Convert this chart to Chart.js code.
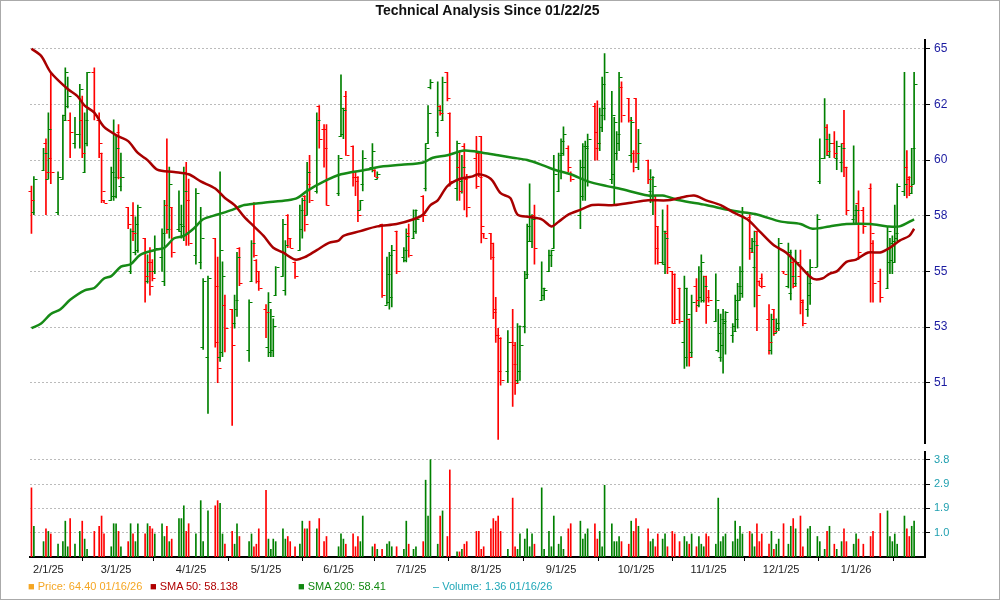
<!DOCTYPE html>
<html><head><meta charset="utf-8">
<script src="https://cdn.jsdelivr.net/npm/chart.js@4"></script>
<style>
html,body{margin:0;padding:0;background:#fff;}
#wrap{position:relative;width:1000px;height:600px;overflow:hidden;font-family:Arial,"Liberation Sans",sans-serif;}
#frame{position:absolute;left:0;top:0;width:998px;height:598px;border:1px solid #aaa;}
#title{position:absolute;top:2px;left:0;width:975px;text-align:center;font-weight:bold;font-size:14px;color:#111;}
#pc{position:absolute;left:0;top:0;}
#vc{position:absolute;left:0;top:440px;}
#legend{position:absolute;top:580px;left:28px;font-size:11px;white-space:nowrap;}
#legend span{position:absolute;top:0;}
</style></head><body>
<div id="wrap">
<div id="frame"></div>
<canvas id="pc" width="1000" height="455"></canvas>
<canvas id="vc" width="1000" height="160"></canvas>
<div id="title">Technical Analysis Since 01/22/25</div>
<div id="legend">
<span style="left:0;color:#f5a623">&#9632; Price: 64.40 01/16/26</span>
<span style="left:122px;color:#b00000">&#9632; SMA 50: 58.138</span>
<span style="left:270px;color:#118811">&#9632; SMA 200: 58.41</span>
<span style="left:405px;color:#20a8b8">&#8211; Volume: 1.36 01/16/26</span>
</div>
</div>
<script>
// x positions are session days since 01/22/25 on the chart's time axis
const monthTickDays = [10,38,69,100,130,160,191,222,253,283,313,344];
const monthTickLabels = ["2/1/25","3/1/25","4/1/25","5/1/25","6/1/25","7/1/25","8/1/25","9/1/25","10/1/25","11/1/25","12/1/25","1/1/26"];
const priceTicks = [65,62.65,60.3,57.95,55.6,53.25,50.9];
const priceTickLabels = ["65","62","60","58","55","53","51"];
const volTicks = [0.95,1.9,2.85,3.8];
const volTickLabels = ["1.0","1.9","2.9","3.8"];

// [day, open, high, low, close]
const bars = [
[3,59.0,59.2,57.2,58.6],[4,58.1,59.6,58.0,59.5],[8,59.9,60.8,59.9,60.6],[9,61.0,61.2,58.0,59.8],[10,59.5,62.3,59.5,61.6],[11,60.4,64.0,59.3,59.8],[14,58.1,59.8,58.0,59.6],[16,59.5,62.2,59.5,62.0],[17,62.2,64.2,62.0,64.0],[18,62.6,63.8,62.5,63.0],[19,62.0,62.3,60.4,61.5],[21,61.0,62.1,60.8,61.4],[23,61.4,63.5,60.8,63.3],[24,62.0,63.0,60.4,60.6],[25,59.8,62.3,59.8,62.0],[26,61.0,64.0,60.9,64.0],[29,64.0,64.2,62.0,62.2],[31,62.0,62.3,60.4,61.0],[32,60.6,60.6,58.5,59.0],[33,58.6,58.6,58.5,58.5],
[36,58.6,60.0,58.6,59.8],[37,58.8,62.0,58.6,59.6],[38,58.8,61.3,58.7,60.8],[39,61.5,61.8,59.5,59.6],[40,59.2,60.6,59.0,59.6],[43,58.3,58.3,57.4,57.6],[44,55.6,57.4,55.5,57.3],[45,58.0,58.5,56.9,57.2],[46,56.4,57.9,56.3,57.6],[47,56.5,58.4,56.4,58.3],[50,57.0,57.0,54.3,55.4],[51,55.2,56.3,55.1,55.6],[52,56.0,56.6,54.6,55.0],[53,56.0,56.1,55.2,55.3],[54,55.6,57.1,55.5,56.6],[57,56.2,57.4,55.6,57.2],[58,55.2,58.6,55.0,58.4],[59,58.4,61.2,57.2,57.4],[60,57.4,60.0,57.0,59.3],[61,58.3,58.3,56.2,56.4],
[64,57.4,59.0,57.3,57.6],[65,57.3,58.4,57.0,57.5],[66,57.5,60.0,56.9,59.0],[67,59.8,60.2,56.7,58.6],[68,58.6,59.5,56.7,56.8],[71,56.3,59.1,55.9,58.9],[73,56.0,58.3,55.7,57.0],[74,52.4,55.3,52.3,55.2],[76,52.0,55.4,49.6,55.3],[79,57.0,57.0,52.4,52.6],[80,55.0,56.2,50.9,51.5],[81,52.0,59.8,51.8,56.5],[82,52.2,56.0,52.0,55.4],[83,54.2,54.6,52.2,53.2],[86,54.0,54.0,49.1,52.5],[87,53.4,54.6,53.2,54.4],[88,54.0,56.4,53.7,56.2],[89,56.6,56.6,55.0,55.1],[93,52.3,54.4,51.8,54.3],[94,55.2,56.9,55.2,56.8],
[95,58.5,58.5,56.2,56.3],[96,56.1,56.1,55.1,55.2],[97,55.6,55.6,54.8,54.9],[100,54.0,54.2,52.8,53.9],[101,52.4,54.7,52.0,54.3],[102,52.2,54.0,52.0,53.7],[103,52.3,53.6,52.0,53.3],[104,54.6,55.8,54.6,55.8],[107,55.4,57.8,55.4,57.6],[108,54.8,56.9,54.6,56.7],[109,58.0,58.0,56.6,57.0],[110,57.0,57.0,56.6,56.6],[112,56.0,56.0,55.3,55.4],[114,56.5,58.4,56.5,58.2],[115,57.4,58.7,57.0,58.6],[116,58.8,58.8,57.3,57.6],[117,58.0,60.2,58.0,59.8],[118,59.3,60.5,58.5,58.6],[121,59.0,62.3,58.9,62.0],[122,62.6,62.6,60.8,61.2],
[124,61.6,61.8,60.0,60.8],[125,61.6,61.8,58.4,58.4],[130,58.9,60.5,58.8,60.4],[131,61.3,63.9,61.3,62.5],[132,61.4,62.5,61.2,62.4],[133,63.0,63.2,60.5,60.5],[136,60.9,60.9,59.2,59.6],[137,59.6,59.8,58.8,59.4],[138,59.6,59.6,57.7,58.0],[139,58.2,58.6,58.2,58.6],[140,59.3,60.7,59.0,60.4],[144,60.0,61.0,59.8,60.7],[145,59.9,59.9,59.6,59.6],[146,59.5,59.8,59.5,59.7],[148,57.6,57.6,54.5,54.6],[150,54.2,56.2,54.2,55.5],[151,54.3,56.4,54.0,56.3],[152,54.5,56.7,54.1,56.5],[154,57.3,57.3,55.5,55.6],[157,56.2,56.6,56.0,56.5],
[158,56.1,57.4,56.0,57.1],[159,57.2,57.6,56.2,56.3],[161,57.0,58.2,57.0,58.2],[162,57.3,58.2,57.2,57.8],[165,58.8,58.8,57.7,58.0],[166,59.1,61.0,59.0,60.8],[167,61.0,62.6,61.0,62.3],[168,63.4,63.7,63.3,63.6],[171,61.5,63.6,61.3,62.4],[172,62.6,62.6,62.2,62.3],[173,62.0,63.8,62.0,63.6],[175,64.0,64.0,62.8,62.9],[176,62.3,62.3,59.2,59.4],[179,59.1,61.1,58.6,61.0],[180,60.0,60.7,58.6,59.0],[181,59.4,60.5,58.9,60.0],[182,60.9,61.0,58.2,59.5],[183,59.5,59.7,57.9,58.3],[187,60.4,61.3,59.1,59.2],[188,60.6,60.6,59.6,59.6],
[189,61.3,61.3,56.8,57.5],[190,57.2,57.2,57.0,57.0],[193,57.2,57.2,56.1,56.2],[194,56.8,56.8,53.6,53.9],[195,54.0,54.5,52.6,52.9],[196,52.9,53.2,48.5,51.4],[197,52.8,52.8,50.8,51.0],[200,51.4,53.1,50.9,52.6],[202,52.6,54.0,49.9,51.7],[203,52.5,52.6,50.4,50.9],[204,51.0,53.4,50.9,53.3],[205,51.4,53.3,51.0,52.5],[207,53.3,55.6,53.0,55.5],[208,55.3,57.6,55.3,56.9],[209,57.5,59.3,56.9,58.0],[210,56.9,58.0,56.6,57.8],[211,58.0,58.4,55.9,56.6],[214,54.4,56.0,54.4,54.9],[215,54.6,54.9,54.4,54.8],[217,55.6,56.5,55.6,56.3],
[218,56.3,56.5,55.8,56.5],[219,56.6,60.5,56.6,59.7],[221,59.0,60.6,59.0,60.5],[222,59.9,61.2,59.5,61.1],[223,60.6,61.7,60.5,61.4],[225,60.8,60.9,59.8,60.0],[226,59.7,59.8,59.4,59.5],[230,58.0,60.3,57.4,60.0],[231,58.8,61.0,58.6,60.9],[232,60.0,61.1,58.6,60.9],[233,60.8,61.4,59.2,61.2],[236,62.6,62.7,60.3,60.8],[237,61.5,62.8,60.3,61.0],[238,61.0,62.5,60.7,62.2],[239,61.7,63.8,61.5,63.5],[240,62.5,64.8,62.0,64.0],[243,59.5,63.2,59.3,62.2],[244,59.7,62.1,58.4,61.9],[245,60.6,61.5,60.3,61.4],[246,61.0,64.0,60.7,63.8],
[247,63.4,63.6,61.9,62.2],[250,62.9,62.9,61.9,62.0],[251,60.5,62.1,60.2,61.9],[252,60.6,60.7,59.8,60.0],[253,62.9,62.9,60.2,60.6],[254,60.0,61.6,59.9,61.0],[258,60.3,60.3,59.3,59.5],[259,59.0,59.9,58.5,59.6],[260,58.8,59.6,58.0,59.2],[261,58.8,58.8,55.9,56.6],[262,57.5,57.5,55.9,56.0],[264,56.0,58.2,55.9,57.3],[265,55.9,57.3,55.5,57.0],[266,57.2,58.4,55.5,55.8],[268,55.6,55.6,53.4,53.4],[269,55.5,55.5,53.4,53.6],[271,54.9,54.9,53.4,53.5],[273,52.6,55.4,51.5,54.9],[274,52.0,54.9,51.6,53.8],[275,53.6,53.6,51.6,52.0],
[276,52.2,54.6,52.0,54.3],[278,55.0,55.3,53.9,54.4],[279,54.2,55.8,54.1,55.6],[280,54.5,56.3,54.3,56.0],[281,54.4,55.4,54.3,55.0],[282,55.4,55.4,53.4,54.2],[283,54.5,54.8,54.3,54.4],[286,53.5,55.5,53.5,54.4],[287,52.3,54.0,52.2,53.0],[288,52.0,53.8,51.8,53.6],[289,52.5,54.0,51.3,53.5],[290,53.4,53.9,52.1,53.9],[293,52.9,53.4,52.6,53.1],[294,53.3,54.6,53.1,54.4],[295,53.6,55.1,53.2,55.0],[296,54.4,55.8,54.4,55.6],[297,54.7,58.3,54.5,58.1],[300,57.9,58.0,56.1,56.4],[301,56.6,57.0,56.4,56.9],[302,55.8,57.3,54.1,56.7],
[303,57.3,57.3,53.1,54.6],[304,55.2,55.2,55.0,55.0],[305,55.3,55.5,54.9,55.0],[308,53.6,54.2,52.1,52.6],[309,52.3,53.8,52.1,53.6],[310,54.0,54.0,52.9,53.1],[311,53.0,53.6,53.0,53.4],[312,53.2,57.0,53.1,56.8],[314,55.6,55.6,55.5,55.5],[316,55.0,56.8,54.9,56.4],[317,54.7,56.5,54.4,55.4],[318,56.0,56.1,54.9,55.0],[319,55.1,56.5,55.0,56.0],[321,55.4,56.5,53.8,54.3],[322,54.4,54.4,53.3,53.4],[324,54.0,55.6,53.7,55.1],[325,54.6,56.1,54.2,55.8],[328,55.8,58.0,55.8,57.8],[329,59.4,61.2,59.3,60.4],[331,60.4,62.9,60.4,61.2],
[332,61.7,61.8,60.5,60.7],[333,60.5,61.4,60.4,61.0],[335,61.0,61.5,60.4,60.6],[336,60.4,61.1,59.9,60.9],[338,60.2,61.0,59.8,60.8],[339,61.0,62.4,59.6,60.0],[340,60.0,60.0,58.0,58.2],[343,57.8,60.9,57.6,58.2],[344,58.0,58.4,57.6,58.2],[345,58.5,59.0,56.1,56.4],[347,58.2,58.3,57.2,57.5],[350,59.1,59.3,54.3,57.2],[351,56.8,56.9,54.3,55.1],[354,55.2,55.7,54.3,54.5],[357,54.9,57.5,54.9,57.3],[358,56.0,57.0,55.5,56.8],[359,56.1,57.1,55.5,56.9],[360,56.0,58.4,56.0,57.2],[361,57.0,59.3,56.9,59.2],[364,59.0,64.0,58.8,59.3],
[365,60.0,60.7,58.7,59.6],[366,59.5,59.6,58.8,59.2],[367,58.9,60.8,58.9,60.8],[368,59.3,64.0,59.3,63.5]
];

// [day, volume (millions)]
const volumes = [
[3,2.7],[4,1.2],[8,0.6],[9,1.1],[10,1.0],[11,0.9],[14,0.5],[16,0.6],[17,1.4],[18,0.4],[19,1.5],[21,0.5],[23,1.0],[24,1.4],[25,0.7],[26,0.3],[29,1.0],[31,1.2],[32,1.6],[33,0.9],[36,0.4],[37,1.3],[38,1.3],[39,1.0],[40,0.4],[43,0.6],[44,1.3],[45,0.9],[46,0.6],[47,1.3],[50,0.9],[51,1.3],[52,1.2],[53,1.1],[54,0.9],[57,1.3],[58,0.8],[59,1.2],[60,0.6],[61,0.7],[64,1.5],[65,1.5],[66,2.0],[67,1.0],[68,1.3],[71,0.9],[73,2.2],[74,0.6],[76,1.8],[79,2.0],[80,2.2],[81,2.1],[82,0.9],[83,0.5],[86,1.0],[87,0.5],[88,1.3],[89,0.8],[93,0.6],[94,0.9],[95,0.4],[96,0.5],[97,1.1],[100,2.6],[101,0.7],[102,0.3],[103,0.7],[104,0.6],[107,1.1],[108,0.7],[109,0.8],[110,0.6],[112,0.4],[114,0.5],[115,1.4],[116,1.1],[117,1.1],[118,1.4],[121,1.1],[122,1.5],[124,0.6],[125,0.8],[130,0.4],[131,0.9],[132,0.7],[133,0.5],[136,0.9],[137,0.4],[138,0.8],[139,0.6],[140,1.6],[144,0.4],[145,0.5],[146,0.3],[148,0.3],[150,0.5],[151,0.6],[152,0.4],[154,0.4],[157,0.3],[158,1.4],[159,0.5],[161,0.3],[162,0.4],[165,0.6],[166,3.0],[167,1.6],[168,3.8],[171,0.5],[172,1.6],[173,1.8],[175,0.8],[176,3.4],[179,0.2],[180,0.2],[181,0.3],[182,0.5],[183,0.6],[187,1.0],[188,1.0],[189,0.3],[190,0.4],[193,1.1],[194,1.5],[195,1.4],[196,1.6],[197,1.0],[200,0.3],[202,2.3],[203,0.4],[204,0.3],[205,0.9],[207,0.7],[208,1.1],[209,0.4],[210,0.9],[211,0.5],[214,2.7],[215,0.3],[217,1.0],[218,0.4],[219,1.6],[221,0.5],[222,0.8],[223,0.3],[225,1.1],[226,1.3],[230,1.4],[231,0.7],[232,0.9],[233,1.1],[236,1.3],[237,0.7],[238,1.0],[239,0.4],[240,2.8],[243,1.3],[244,0.6],[245,0.6],[246,0.8],[247,0.6],[250,0.5],[251,1.4],[252,1.0],[253,1.5],[254,1.2],[258,1.1],[259,0.6],[260,0.7],[261,0.4],[262,0.9],[264,0.7],[265,0.9],[266,0.4],[268,1.0],[269,0.9],[271,0.6],[273,0.8],[274,0.6],[275,0.5],[276,0.9],[278,0.4],[279,0.8],[280,0.5],[281,0.4],[282,0.9],[283,0.8],[286,0.5],[287,2.3],[288,0.6],[289,0.8],[290,0.9],[293,0.6],[294,1.4],[295,0.7],[296,1.2],[297,0.9],[300,1.0],[301,0.9],[302,0.4],[303,1.3],[304,0.6],[305,0.9],[308,0.5],[309,1.0],[310,0.3],[311,0.5],[312,0.7],[314,1.3],[316,0.5],[317,1.2],[318,1.5],[319,1.1],[321,1.6],[322,0.4],[324,1.1],[325,1.2],[328,0.8],[329,0.6],[331,0.3],[332,1.0],[333,1.2],[335,0.5],[336,0.3],[338,0.6],[339,1.1],[340,0.6],[343,0.5],[344,0.9],[345,0.7],[347,0.5],[350,0.8],[351,1.0],[354,1.7],[357,1.8],[358,0.8],[359,0.6],[360,0.9],[361,0.5],[364,1.6],[365,1.1],[366,0.8],[367,1.2],[368,1.4]
];

const sma50Days = [3,7,11,18,22,25,29,33,39,43,47,51,55,62,68,73,79,83,87,91,95,99,103,107,112,116,121,126,130,132,139,146,154,161,165,168,171,175,180,185,188,193,197,201,204,209,214,218,221,225,230,235,244,251,258,266,271,277,282,288,293,299,304,310,315,321,326,330,333,336,340,344,349,354,358,362,366,368];
const sma50Vals = [65.0,64.7,64.0,63.3,63.0,62.6,62.3,61.7,61.3,61.1,60.6,60.3,59.9,59.8,59.7,59.4,59.1,58.7,58.4,57.9,57.5,57.1,56.6,56.4,56.1,56.2,56.5,56.8,56.9,57.1,57.3,57.5,57.6,57.8,58.0,58.4,58.6,59.2,59.5,59.6,59.7,59.5,58.9,58.7,58.0,57.9,57.8,57.5,57.7,58.0,58.2,58.4,58.4,58.5,58.6,58.6,58.7,58.8,58.6,58.4,58.1,57.8,57.3,56.7,56.4,55.8,55.3,55.3,55.5,55.6,56.0,56.1,56.4,56.4,56.6,56.9,57.1,57.4];
const sma200Days = [3,7,11,15,19,25,29,33,36,40,44,48,54,58,62,66,70,74,80,86,91,99,109,113,117,124,131,142,146,156,165,169,175,182,190,196,202,208,214,219,226,233,241,246,258,264,271,282,291,297,303,313,321,326,333,340,350,357,362,368];
const sma200Vals = [53.2,53.4,53.8,54.0,54.4,54.8,54.9,55.3,55.4,55.8,55.9,56.3,56.5,56.6,57.0,57.1,57.4,57.8,58.0,58.2,58.4,58.5,58.6,58.7,59.0,59.4,59.7,59.9,60.0,60.1,60.2,60.4,60.5,60.7,60.6,60.5,60.4,60.3,60.1,59.9,59.7,59.4,59.2,59.1,58.8,58.8,58.6,58.4,58.2,58.1,58.0,57.7,57.6,57.4,57.5,57.6,57.6,57.5,57.5,57.8];

const RED = '#ff0000', GREEN = '#008000';
const xMin = 2.4, xMax = 372.5;
const colorOf = b => (b[4] >= b[1] ? GREEN : RED);
const barColorByDay = {};
bars.forEach(b => barColorByDay[b[0]] = colorOf(b));

const fixedTicks = (vals) => function(axis){ axis.ticks = vals.map(v => ({value: v})); };

const ohlcTicks = {
  id: 'ohlcTicks',
  afterDatasetDraw(chart, args) {
    if (args.index !== 0) return;
    const {ctx, scales:{x, y}} = chart;
    ctx.save();
    ctx.lineWidth = 1;
    bars.forEach(b => {
      const px = Math.round(x.getPixelForValue(b[0])) + 0.5;
      ctx.strokeStyle = colorOf(b);
      const po = Math.round(y.getPixelForValue(b[1])) + 0.5;
      const pc = Math.round(y.getPixelForValue(b[4])) + 0.5;
      ctx.beginPath();
      ctx.moveTo(px - 3, po); ctx.lineTo(px, po);
      ctx.moveTo(px, pc); ctx.lineTo(px + 3, pc);
      ctx.stroke();
    });
    ctx.restore();
  }
};

new Chart(document.getElementById('pc'), {
  type: 'bar',
  data: {
    datasets: [
      {type:'bar', data: bars.map(b => ({x:b[0], y:[b[3], b[2]]})),
       backgroundColor: bars.map(colorOf), borderWidth:0, barThickness:1, order:3},
      {type:'line', data: sma50Days.map((d,i)=>({x:d, y:sma50Vals[i]})), borderColor:'#a80000',
       borderWidth:2.5, pointRadius:0, tension:0.3, order:1},
      {type:'line', data: sma200Days.map((d,i)=>({x:d, y:sma200Vals[i]})), borderColor:'#168a16',
       borderWidth:2.5, pointRadius:0, tension:0.3, order:2}
    ]
  },
  options: {
    responsive:false, animation:false, events:[],
    layout:{padding:{left:30, top:40, bottom:5, right:0}},
    plugins:{legend:{display:false}, tooltip:{enabled:false}},
    scales:{
      x:{type:'linear', min:xMin, max:xMax, offset:false, display:false},
      y:{position:'right', min:48.32, max:65.37,
         afterBuildTicks: fixedTicks(priceTicks),
         afterFit(a){ a.width = 75; },
         border:{display:true, color:'#000', width:2, dash:[2,2]},
         grid:{color:'#bbb', tickLength:5, tickColor:'#000', drawTicks:true},
         ticks:{color:'#1a1aa0', font:{size:12, family:'Arial'}, padding:4,
                callback:(v)=>{const i=priceTicks.indexOf(v); return i>=0?priceTickLabels[i]:'';}}}
    }
  },
  plugins:[ohlcTicks]
});

new Chart(document.getElementById('vc'), {
  type:'bar',
  data:{datasets:[{data: volumes.map(v=>({x:v[0], y:v[1]})),
    backgroundColor: volumes.map(v => barColorByDay[v[0]] || GREEN), borderWidth:0, barThickness:1}]},
  options:{
    responsive:false, animation:false, events:[],
    layout:{padding:{left:30, top:12, bottom:0, right:0}},
    plugins:{legend:{display:false}, tooltip:{enabled:false}},
    scales:{
      x:{type:'linear', min:xMin, max:xMax, offset:false,
         afterBuildTicks: fixedTicks(monthTickDays),
         afterFit(a){ a.height = 43; },
         border:{display:true, color:'#000', width:2},
         grid:{drawOnChartArea:false, tickLength:4, tickColor:'#000'},
         ticks:{color:'#222', font:{size:11, family:'Arial'}, maxRotation:0, autoSkip:false, padding:2,
                callback:(v)=>{const i=monthTickDays.indexOf(v); return i>=0?monthTickLabels[i]:'';}}},
      y:{position:'right', min:0, max:4.1,
         afterBuildTicks: fixedTicks(volTicks),
         afterFit(a){ a.width = 75; },
         border:{display:true, color:'#000', width:2, dash:[2,2]},
         grid:{color:'#bbb', tickLength:5, tickColor:'#000'},
         ticks:{color:'#20a0b0', font:{size:11, family:'Arial'}, padding:4,
                callback:(v)=>{const i=volTicks.indexOf(v); return i>=0?volTickLabels[i]:'';}}}
    }
  }
});
</script>
</body></html>
